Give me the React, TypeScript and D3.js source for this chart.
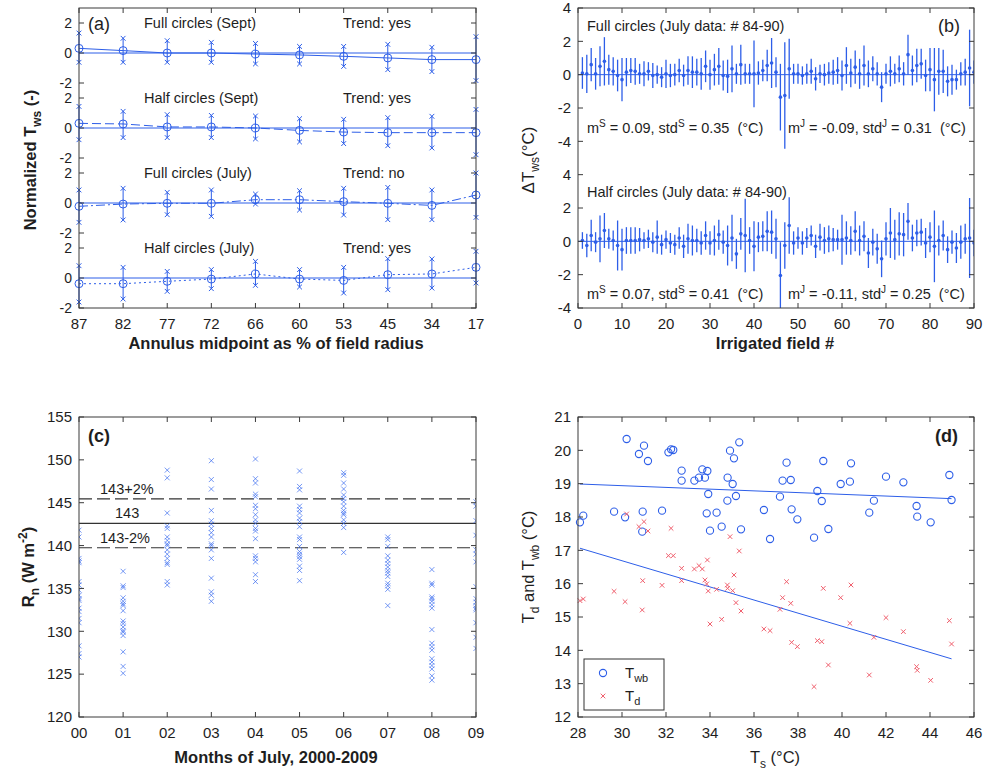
import React from "react";
import * as d3 from "d3";

const FONT = "'Liberation Sans', Arial, Helvetica, sans-serif";
const BLUE = "#2d5ee8";
const RED = "#f0606e";
const INK = "#1e1e1e";
const EDGE = "#3a3a3a";

// ---- (a) normalized T_ws per annulus ----
const annulus = ["87", "82", "77", "72", "66", "60", "53", "45", "34", "17"];
const aTitle = ["Full circles (Sept)", "Half circles (Sept)", "Full circles (July)", "Half circles (July)"];
const aTrend = ["Trend: yes", "Trend: yes", "Trend: no", "Trend: yes"];
const aOffset = [15, 10, 5, 0];
const aDash = ["none", "9,4", "9,3,2,3", "2,3"];

const fullSeptMean = [0.31, 0.16, 0.0, 0.0, -0.07, -0.13, -0.22, -0.33, -0.44, -0.44];
const fullSeptHi = [1.33, 0.98, 0.82, 0.71, 0.64, 0.44, 0.44, 0.58, 0.38, 1.09];
const fullSeptLo = [-0.62, -0.62, -0.62, -0.62, -0.73, -0.73, -0.89, -1.11, -1.24, -1.84];
const halfSeptMean = [0.31, 0.27, 0.07, 0.07, 0.0, -0.16, -0.27, -0.31, -0.31, -0.31];
const halfSeptHi = [1.44, 1.11, 0.89, 0.84, 0.8, 0.62, 0.58, 0.69, 0.78, 1.24];
const halfSeptLo = [-0.78, -0.64, -0.64, -0.64, -0.73, -0.93, -1.04, -1.18, -1.33, -1.78];
const fullJulyMean = [-0.22, -0.07, -0.02, -0.02, 0.22, 0.22, 0.09, -0.02, -0.16, 0.53];
const fullJulyHi = [0.87, 0.98, 0.71, 0.87, 0.6, 0.82, 0.98, 1.04, 0.87, 2.0];
const fullJulyLo = [-1.29, -1.13, -0.78, -0.89, -0.07, -0.47, -0.8, -1.11, -1.11, -0.96];
const halfJulyMean = [-0.38, -0.38, -0.22, -0.07, 0.27, -0.07, -0.16, 0.22, 0.27, 0.71];
const halfJulyHi = [0.82, 0.71, 0.44, 0.56, 1.11, 0.56, 0.71, 1.29, 1.27, 1.78];
const halfJulyLo = [-1.6, -1.4, -0.89, -0.71, -0.49, -0.6, -1.0, -0.78, -0.67, -0.33];

// ---- (b) delta T_ws per irrigated field ----
const fullDelta = [
  0.1, 0.05, 0.6, 0.05, 0.5, 0.8, 0.3, 0.2, -0.05, -0.3,
  0.15, 0.25, 0.2, 0.05, 0.05, 0.2, -0.05, 0, -0.15, 0.05,
  -0.05, 0, 0.25, -0.05, 0.25, 0.15, 0.15, 0.05, 0.5, 0,
  0.3, 0.5, -0.05, -0.1, 0.35, 0.05, 0.6, 0.05, 0.05, 0.05,
  0.1, 0.25, 0.55, 0.7, 0.15, -1.35, -1.25, 0.35, 0.05, 0.05,
  -0.05, 0.05, 0.2, -0.25, 0.05, 0, 0.1, 0.15, 0.25, -0.05,
  0.55, 0.1, 0.45, 0.05, 0.55, 0.05, 0.35, 0.05, -0.75, 0.05,
  0.2, 0.05, 0.35, 0.05, 1.2, 0.25, 0.55, 0.65, -0.05, 0.3,
  -0.3, 0.2, 0.2, -0.4, -0.3, -0.3, 0.05, 0.15, 0.4, 0.15,
];
const fullStd = [
  0.95, 1.15, 1.0, 0.95, 1.2, 1.45, 0.9, 0.85, 0.95, 1.3,
  0.85, 0.75, 0.8, 0.6, 0.75, 0.55, 0.75, 0.55, 0.6, 0.85,
  0.7, 0.65, 0.7, 0.65, 0.85, 0.95, 0.8, 0.95, 0.95, 0.9,
  0.95, 1.1, 0.9, 1.0, 1.4, 0.6, 1.2, 0.6, 0.6, 2.0,
  0.7, 0.65, 0.95, 1.5, 0.9, 2.0, 3.2, 1.8, 0.6, 0.6,
  0.55, 0.6, 0.75, 0.7, 0.55, 0.65, 0.65, 0.75, 0.8, 0.9,
  1.1, 0.85, 1.0, 0.9, 1.2, 0.8, 0.75, 0.7, 0.9, 0.6,
  0.9, 0.6, 0.8, 0.7, 1.2, 0.9, 1.0, 0.9, 0.95, 1.3,
  1.9, 1.4, 1.3, 0.9, 0.9, 0.6, 0.7, 0.8, 2.3, 0.7,
];
const halfDelta = [
  0.05, -0.25, 0.35, -0.05, 0.15, 0.65, 0.15, 0.05, -0.25, -0.5,
  0.05, 0.05, 0.05, 0.1, 0.05, 0.15, -0.05, 0.25, -0.2, 0.1,
  -0.1, -0.2, 0.2, -0.3, 0.15, 0.05, 0.05, -0.1, 0.35, -0.1,
  0.05, 0.4, -0.05, -0.25, 0.2, -0.75, 0.45, 0.35, 0.05, -0.3,
  0.25, 0.3, 0.6, 0.55, 0.15, -2.05, -0.25, 0.95, -0.1, 0.2,
  -0.1, 0.2, 0.35, -0.3, 0.25, 0.05, 0.15, 0.1, 0.1, 0.1,
  0.2, 0.05, 0.6, 0.05, 0.3, -0.7, -0.05, -0.45, -1.05, 0.15,
  0.5, 0.1, 0.45, 0.4, 1.2, 0.2, 0.5, 0.55, -0.1, 0.25,
  -0.3, 0.05, 0.35, -0.5, -0.05, -0.4, -0.05, 0.15, 0.2, -0.1,
];
const halfStd = [
  0.5, 0.7, 0.95, 0.6, 1.4, 1.05, 0.6, 0.6, 1.5, 1.25,
  0.8, 0.8, 0.8, 0.7, 0.5, 0.55, 0.6, 1.0, 0.6, 0.55,
  0.6, 0.6, 0.65, 0.7, 0.9, 0.9, 0.7, 0.7, 0.85, 0.7,
  0.9, 0.9, 0.7, 1.2, 1.4, 0.9, 0.95, 2.2, 0.8, 1.5,
  0.9, 0.9, 1.2, 1.3, 1.2, 2.0, 1.4, 1.7, 0.7, 0.65,
  0.7, 0.6, 0.6, 0.7, 0.8, 0.8, 0.8, 0.7, 0.6, 1.5,
  1.0, 0.85, 1.2, 0.9, 0.9, 0.9, 0.8, 0.9, 1.1, 1.0,
  1.5, 1.2, 1.3, 1.3, 1.1, 0.8, 0.8, 0.8, 0.9, 0.9,
  2.15, 0.9, 0.9, 0.8, 0.7, 0.9, 1.0, 0.9, 2.4, 0.8,
];

// ---- (c) net radiation per July ----
const years = ["00", "01", "02", "03", "04", "05", "06", "07", "08", "09"];
const rn00 = [141.8, 141.0, 138.5, 138.2, 138.0, 135.8, 135.4, 134.8, 134.2, 133.8, 133.6, 132.7, 132.3, 131.5, 131.0, 128.3, 127.4, 127.0];
const rn01 = [137.0, 135.3, 135.1, 133.9, 133.5, 133.2, 133.0, 132.4, 131.2, 130.9, 130.5, 130.1, 129.9, 129.5, 127.6, 125.9, 125.1];
const rn02 = [148.8, 147.9, 143.8, 142.3, 142.0, 141.0, 140.6, 140.2, 140.0, 139.5, 139.0, 138.5, 138.0, 137.8, 135.8, 135.4];
const rn03 = [149.9, 147.7, 146.6, 144.1, 142.9, 142.5, 142.0, 141.5, 141.0, 140.2, 140.0, 139.5, 138.5, 136.2, 134.6, 134.2, 133.5];
const rn04 = [150.1, 147.8, 147.3, 146.0, 145.7, 144.7, 144.3, 143.6, 143.0, 142.6, 142.0, 141.7, 140.8, 138.8, 138.5, 138.1, 136.6, 135.8];
const rn05 = [148.7, 146.9, 146.5, 144.6, 144.2, 143.8, 143.2, 142.8, 142.2, 141.0, 140.7, 139.9, 139.3, 139.0, 138.7, 138.4, 137.6, 137.1, 135.9];
const rn06 = [148.5, 148.2, 147.3, 146.6, 145.9, 145.5, 145.1, 144.6, 144.1, 143.8, 143.6, 143.0, 142.6, 142.1, 139.2];
const rn07 = [141.0, 140.7, 139.9, 138.8, 138.3, 137.9, 137.5, 137.1, 136.8, 136.4, 135.6, 135.3, 134.9, 133.0];
const rn08 = [137.2, 135.6, 135.4, 134.0, 133.8, 133.5, 133.1, 132.7, 130.2, 128.6, 128.2, 127.8, 126.8, 126.4, 126.0, 125.6, 124.8, 124.3];
const rn09 = [145.1, 144.6, 142.9, 141.2, 139.5, 139.0, 138.1, 135.2, 133.8, 133.4, 133.0, 132.7, 132.5, 131.0, 129.3, 128.0];
const rnMean = 142.6;
const rnBandPct = 0.02;

// ---- (d) T_wb and T_d against T_s ----
const ts = [
  28.09, 28.24, 29.64, 30.14, 30.21, 30.77, 30.92, 30.94, 31.0, 31.18,
  31.82, 32.11, 32.23, 32.33, 32.71, 32.71, 33.29, 33.5, 33.65, 33.77,
  33.85, 33.88, 33.92, 34.0, 34.3, 34.53, 34.79, 34.8, 34.91, 35.03,
  35.09, 35.18, 35.33, 35.41, 36.45, 36.73, 37.18, 37.3, 37.48, 37.67,
  37.71, 37.97, 38.73, 38.88, 39.08, 39.15, 39.38, 39.94, 40.36, 40.41,
  41.24, 41.45, 42.0, 42.79, 43.39, 43.42, 44.03, 44.88, 44.98,
];
const twb = [
  17.84, 18.04, 18.16, 17.99, 20.34, 19.89, 17.56, 18.16, 20.14, 19.68,
  18.19, 19.94, 20.03, 20.01, 19.39, 19.09, 19.09, 19.18, 19.43, 19.18,
  18.11, 19.38, 18.69, 17.59, 18.13, 17.71, 18.49, 19.18, 19.99, 18.99,
  19.76, 18.63, 20.24, 17.63, 18.21, 17.34, 18.61, 19.09, 19.63, 19.11,
  18.23, 17.93, 17.38, 18.78, 18.48, 19.68, 17.64, 18.99, 19.06, 19.61,
  18.13, 18.49, 19.21, 19.04, 18.33, 18.01, 17.84, 19.26, 18.51,
];
const td = [
  15.49, 15.54, 15.77, 15.46, 18.09, 17.71, 15.21, 16.09, 17.86, 17.58,
  15.95, 16.84, 17.66, 16.84, 16.46, 16.09, 16.44, 16.54, 16.44, 16.11,
  15.99, 16.71, 15.78, 14.79, 15.83, 14.93, 15.96, 15.86, 17.41, 15.79,
  16.26, 15.43, 16.98, 15.18, 14.64, 14.59, 15.23, 15.58, 16.06, 15.41,
  14.24, 14.11, 12.91, 14.29, 14.26, 15.86, 13.56, 15.58, 14.81, 15.96,
  13.26, 14.39, 14.98, 14.56, 13.51, 13.4, 13.1, 14.89, 14.19,
];

const cross = (x: number, y: number, s: number) =>
  `M${x - s},${y - s}L${x + s},${y + s}M${x - s},${y + s}L${x + s},${y - s}`;

type Box = { x0: number; x1: number; y0: number; y1: number };

function Frame({ box, xt, yt }: { box: Box; xt: number[]; yt: number[] }) {
  const t = 5;
  return (
    <g stroke={EDGE} strokeWidth={1} fill="none">
      {xt.map((x, i) => (
        <g key={"x" + i}>
          <line x1={x} x2={x} y1={box.y1} y2={box.y1 - t} />
          <line x1={x} x2={x} y1={box.y0} y2={box.y0 + t} />
        </g>
      ))}
      {yt.map((y, i) => (
        <g key={"y" + i}>
          <line x1={box.x0} x2={box.x0 + t} y1={y} y2={y} />
          <line x1={box.x1} x2={box.x1 - t} y1={y} y2={y} />
        </g>
      ))}
      <rect x={box.x0} y={box.y0} width={box.x1 - box.x0} height={box.y1 - box.y0} />
    </g>
  );
}

function fitLine(xs: number[], ys: number[]) {
  const mx = d3.mean(xs)!;
  const my = d3.mean(ys)!;
  const sxy = d3.sum(xs, (x, i) => (x - mx) * (ys[i] - my));
  const sxx = d3.sum(xs, (x) => (x - mx) * (x - mx));
  const b = sxy / sxx;
  return (x: number) => my + b * (x - mx);
}

function PanelA() {
  const box = { x0: 79, x1: 476, y0: 8, y1: 308 };
  const x = d3.scalePoint<string>().domain(annulus).range([box.x0, box.x1]);
  const y = d3.scaleLinear().domain([-2, 18]).range([box.y1, box.y0]);
  const means = [fullSeptMean, halfSeptMean, fullJulyMean, halfJulyMean];
  const his = [fullSeptHi, halfSeptHi, fullJulyHi, halfJulyHi];
  const los = [fullSeptLo, halfSeptLo, fullJulyLo, halfJulyLo];
  const yTicks = aOffset.flatMap((o) => [-2, 0, 2].map((v) => ({ pos: v + o, label: String(v) })));
  return (
    <g>
      {means.map((m, k) => {
        const o = aOffset[k];
        const line = d3
          .line<number>()
          .x((_, i) => x(annulus[i])!)
          .y((d) => y(d + o));
        return (
          <g key={k} stroke={BLUE} fill="none" strokeWidth={1}>
            <line x1={box.x0} x2={box.x1} y1={y(o)} y2={y(o)} />
            <path d={line(m)!} strokeDasharray={aDash[k]} />
            {m.map((v, i) => {
              const cx = x(annulus[i])!;
              return (
                <g key={i}>
                  <line x1={cx} x2={cx} y1={y(his[k][i] + o)} y2={y(los[k][i] + o)} />
                  <path d={cross(cx, y(his[k][i] + o), 2.4)} />
                  <path d={cross(cx, y(los[k][i] + o), 2.4)} />
                  <circle cx={cx} cy={y(v + o)} r={4} />
                </g>
              );
            })}
          </g>
        );
      })}
      <Frame box={box} xt={annulus.map((a) => x(a)!)} yt={yTicks.map((t) => y(t.pos))} />
      <g fontSize={14} fill={INK}>
        {yTicks.map((t, i) => (
          <text key={i} x={box.x0 - 7} y={y(t.pos)} dy="0.35em" textAnchor="end">
            {t.label}
          </text>
        ))}
      </g>
      <g fontSize={15} fill={INK}>
        {annulus.map((a) => (
          <text key={a} x={x(a)} y={box.y1 + 21} textAnchor="middle">
            {a}
          </text>
        ))}
      </g>
      <g fontSize={14.5} fill={INK}>
        {aTitle.map((t, k) => (
          <g key={k}>
            <text x={144} y={y(aOffset[k] + 2) + 5}>{t}</text>
            <text x={343} y={y(aOffset[k] + 2) + 5}>{aTrend[k]}</text>
          </g>
        ))}
        <text x={88} y={y(17) + 7} fontSize={18}>(a)</text>
      </g>
      <text x={276} y={349} textAnchor="middle" fontSize={16.5} fontWeight="bold" fill={INK}>
        Annulus midpoint as % of field radius
      </text>
      <text transform="translate(36,160) rotate(-90)" textAnchor="middle" fontSize={16.5} fontWeight="bold" fill={INK}>
        Normalized T<tspan dy={5} fontSize={12}>ws</tspan>
        <tspan dy={-5}> (-)</tspan>
      </text>
    </g>
  );
}

function PanelB() {
  const box = { x0: 578, x1: 974, y0: 8, y1: 308 };
  const x = d3.scaleLinear().domain([0, 90]).range([box.x0, box.x1]);
  const y = d3.scaleLinear().domain([-4, 14]).range([box.y1, box.y0]);
  const sets = [
    { o: 10, m: fullDelta, s: fullStd, title: "Full circles (July data: # 84-90)", stats: [["0.09", "0.35"], ["-0.09", "0.31"]] },
    { o: 0, m: halfDelta, s: halfStd, title: "Half circles (July data: # 84-90)", stats: [["0.07", "0.41"], ["-0.11", "0.25"]] },
  ];
  const yTicks = [0, 10].flatMap((o) => [-4, -2, 0, 2, 4].map((v) => ({ pos: v + o, label: String(v) })));
  const xt = d3.range(0, 91, 10);
  const gap = "\u00a0\u00a0";
  return (
    <g>
      <clipPath id="clipB">
        <rect x={box.x0} y={box.y0} width={box.x1 - box.x0} height={box.y1 - box.y0} />
      </clipPath>
      <g clipPath="url(#clipB)">
        {sets.map((st, k) => (
          <g key={k} stroke={BLUE} strokeWidth={1.3} fill={BLUE}>
            <line x1={box.x0} x2={box.x1} y1={y(st.o)} y2={y(st.o)} strokeWidth={1} />
            {st.m.map((v, i) => (
              <g key={i}>
                <line x1={x(i + 1)} x2={x(i + 1)} y1={y(v - st.s[i] + st.o)} y2={y(v + st.s[i] + st.o)} />
                <circle cx={x(i + 1)} cy={y(v + st.o)} r={1.8} stroke="none" />
              </g>
            ))}
          </g>
        ))}
      </g>
      <Frame box={box} xt={xt.map((d) => x(d))} yt={yTicks.map((t) => y(t.pos))} />
      <g fontSize={15} fill={INK}>
        {yTicks.map((t, i) => (
          <text key={i} x={box.x0 - 7} y={y(t.pos)} dy="0.35em" textAnchor="end">
            {t.label}
          </text>
        ))}
        {xt.map((d) => (
          <text key={d} x={x(d)} y={box.y1 + 21} textAnchor="middle">
            {d}
          </text>
        ))}
      </g>
      <g fontSize={14.5} fill={INK}>
        {sets.map((st, k) => (
          <g key={k}>
            <text x={587} y={y(st.o + 3) + 6}>{st.title}</text>
            <text x={587} y={y(st.o - 3.3) + 3}>
              m<tspan dy={-6} fontSize={10}>S</tspan>
              <tspan dy={6}> = {st.stats[0][0]}, std</tspan>
              <tspan dy={-6} fontSize={10}>S</tspan>
              <tspan dy={6}> = {st.stats[0][1]}{gap}(°C)</tspan>
            </text>
            <text x={788} y={y(st.o - 3.3) + 3}>
              m<tspan dy={-6} fontSize={10}>J</tspan>
              <tspan dy={6}> = {st.stats[1][0]}, std</tspan>
              <tspan dy={-6} fontSize={10}>J</tspan>
              <tspan dy={6}> = {st.stats[1][1]}{gap}(°C)</tspan>
            </text>
          </g>
        ))}
        <text x={938} y={32} fontSize={18}>(b)</text>
      </g>
      <text x={775} y={349} textAnchor="middle" fontSize={16.5} fontWeight="bold" fill={INK}>
        Irrigated field #
      </text>
      <text transform="translate(534,160) rotate(-90)" textAnchor="middle" fontSize={17} fill={INK}>
        ΔT<tspan dy={5} fontSize={12}>ws</tspan>
        <tspan dy={-5}>(°C)</tspan>
      </text>
    </g>
  );
}

function PanelC() {
  const box = { x0: 79, x1: 476, y0: 417, y1: 717 };
  const x = d3.scalePoint<string>().domain(years).range([box.x0, box.x1]);
  const y = d3.scaleLinear().domain([120, 155]).range([box.y1, box.y0]);
  const cols = [rn00, rn01, rn02, rn03, rn04, rn05, rn06, rn07, rn08, rn09];
  const yt = d3.range(120, 156, 5);
  const hi = rnMean * (1 + rnBandPct);
  const lo = rnMean * (1 - rnBandPct);
  return (
    <g>
      <clipPath id="clipC">
        <rect x={box.x0} y={box.y0} width={box.x1 - box.x0} height={box.y1 - box.y0} />
      </clipPath>
      <g stroke="#333" strokeWidth={1.2}>
        <line x1={box.x0} x2={box.x1} y1={y(hi)} y2={y(hi)} strokeDasharray="13,5" />
        <line x1={box.x0} x2={box.x1} y1={y(rnMean)} y2={y(rnMean)} />
        <line x1={box.x0} x2={box.x1} y1={y(lo)} y2={y(lo)} strokeDasharray="13,5" />
      </g>
      <g clipPath="url(#clipC)" stroke="#3a6cf0" strokeOpacity={0.7} strokeWidth={1} fill="none">
        {cols.map((c, k) =>
          c.map((v, i) => <path key={k + "-" + i} d={cross(x(years[k])!, y(v), 2.5)} />)
        )}
      </g>
      <Frame box={box} xt={years.map((d) => x(d)!)} yt={yt.map((d) => y(d))} />
      <g fontSize={15} fill={INK}>
        {yt.map((d) => (
          <text key={d} x={box.x0 - 7} y={y(d)} dy="0.35em" textAnchor="end">
            {d}
          </text>
        ))}
        {years.map((d) => (
          <text key={d} x={x(d)} y={box.y1 + 21} textAnchor="middle">
            {d}
          </text>
        ))}
      </g>
      <g fontSize={14.5} fill={INK}>
        <text x={100} y={y(hi) - 5}>143+2%</text>
        <text x={115} y={y(rnMean) - 5}>143</text>
        <text x={100} y={y(lo) - 5}>143-2%</text>
      </g>
      <text x={88} y={442} fontSize={18} fontWeight="bold" fill={INK}>(c)</text>
      <text x={276} y={763} textAnchor="middle" fontSize={16.5} fontWeight="bold" fill={INK}>
        Months of July, 2000-2009
      </text>
      <text transform="translate(34,567) rotate(-90)" textAnchor="middle" fontSize={16.5} fontWeight="bold" fill={INK}>
        R<tspan dy={5} fontSize={12}>n</tspan>
        <tspan dy={-5}> (W m</tspan>
        <tspan dy={-7} fontSize={12}>-2</tspan>
        <tspan dy={7}>)</tspan>
      </text>
    </g>
  );
}

function PanelD() {
  const box = { x0: 578, x1: 974, y0: 417, y1: 717 };
  const x = d3.scaleLinear().domain([28, 46]).range([box.x0, box.x1]);
  const y = d3.scaleLinear().domain([12, 21]).range([box.y1, box.y0]);
  const xt = d3.range(28, 47, 2);
  const yt = d3.range(12, 22, 1);
  const fw = fitLine(ts, twb);
  const fd = fitLine(ts, td);
  const [xa, xb] = d3.extent(ts) as [number, number];
  return (
    <g>
      <g stroke={BLUE} strokeWidth={1}>
        <line x1={x(xa)} x2={x(xb)} y1={y(fw(xa))} y2={y(fw(xb))} />
        <line x1={x(xa)} x2={x(xb)} y1={y(fd(xa))} y2={y(fd(xb))} />
      </g>
      <g stroke={BLUE} fill="none" strokeWidth={1.1}>
        {ts.map((t, i) => (
          <circle key={i} cx={x(t)} cy={y(twb[i])} r={3.6} />
        ))}
      </g>
      <g stroke={RED} fill="none" strokeWidth={1}>
        {ts.map((t, i) => (
          <path key={i} d={cross(x(t), y(td[i]), 2.3)} />
        ))}
      </g>
      <Frame box={box} xt={xt.map((d) => x(d))} yt={yt.map((d) => y(d))} />
      <g fontSize={15} fill={INK}>
        {yt.map((d) => (
          <text key={d} x={box.x0 - 7} y={y(d)} dy="0.35em" textAnchor="end">
            {d}
          </text>
        ))}
        {xt.map((d) => (
          <text key={d} x={x(d)} y={box.y1 + 21} textAnchor="middle">
            {d}
          </text>
        ))}
      </g>
      <g>
        <rect x={584} y={659} width={80} height={51} fill="#fff" stroke="#333" />
        <circle cx={603} cy={673} r={3.6} fill="none" stroke={BLUE} strokeWidth={1.1} />
        <path d={cross(603, 696, 2.3)} stroke={RED} fill="none" />
        <text x={625} y={678} fontSize={15} fill={INK}>
          T<tspan dy={4} fontSize={11}>wb</tspan>
        </text>
        <text x={625} y={701} fontSize={15} fill={INK}>
          T<tspan dy={4} fontSize={11}>d</tspan>
        </text>
      </g>
      <text x={935} y={442} fontSize={18} fontWeight="bold" fill={INK}>(d)</text>
      <text x={775} y={763} textAnchor="middle" fontSize={16.5} fill={INK}>
        T<tspan dy={5} fontSize={12}>s</tspan>
        <tspan dy={-5}> (°C)</tspan>
      </text>
      <text transform="translate(534,567) rotate(-90)" textAnchor="middle" fontSize={16.5} fill={INK}>
        T<tspan dy={5} fontSize={12}>d</tspan>
        <tspan dy={-5}> and T</tspan>
        <tspan dy={5} fontSize={12}>wb</tspan>
        <tspan dy={-5}> (°C)</tspan>
      </text>
    </g>
  );
}

export default function App() {
  return (
    <svg
      width={993}
      height={774}
      viewBox="0 0 993 774"
      style={{ position: "absolute", left: 0, top: 0, background: "#fff" }}
      fontFamily={FONT}
    >
      <rect width={993} height={774} fill="#fff" />
      <PanelA />
      <PanelB />
      <PanelC />
      <PanelD />
    </svg>
  );
}
